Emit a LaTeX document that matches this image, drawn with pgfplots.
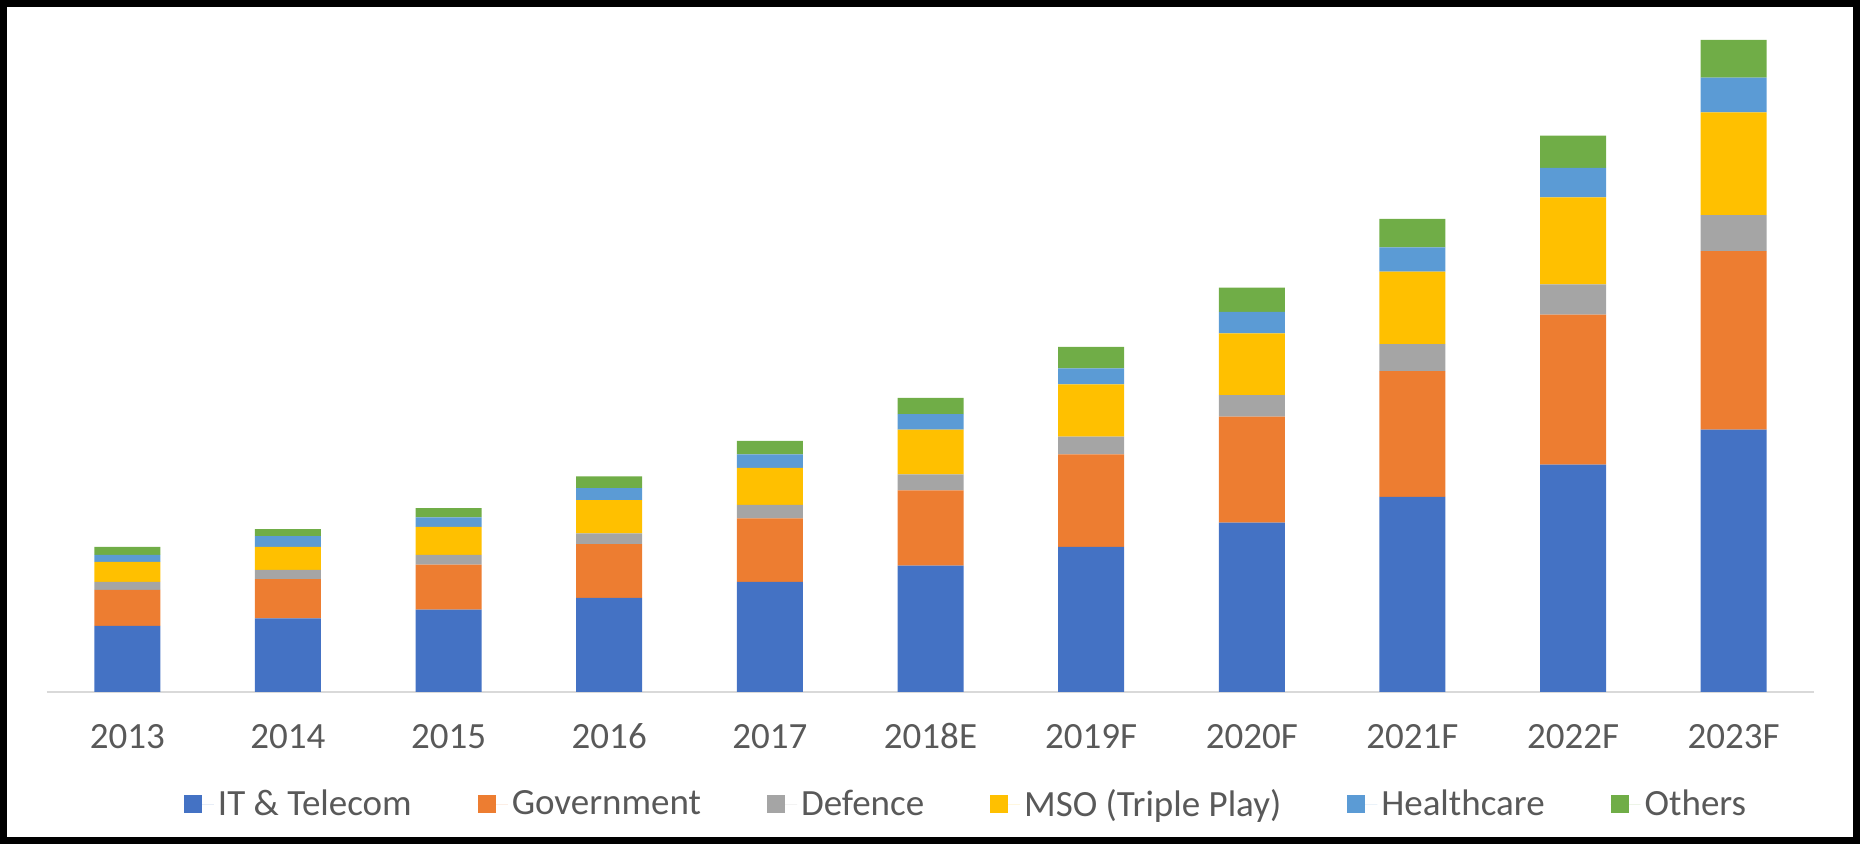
\documentclass[border=0pt]{standalone}
\usepackage{pgfplots}
\pgfplotsset{compat=1.18}
\usepackage{pgfplotstable}
\usepackage{fontspec}
\setmainfont{Carlito}
\definecolor{cIT}{HTML}{4472C4}
\definecolor{cGov}{HTML}{ED7D31}
\definecolor{cDef}{HTML}{A5A5A5}
\definecolor{cMSO}{HTML}{FFC000}
\definecolor{cHea}{HTML}{5B9BD5}
\definecolor{cOth}{HTML}{70AD47}
\definecolor{txt}{HTML}{595959}
\pgfplotstableread{
x IT Gov Def MSO Hea Oth
0 123 67 15 37 13 15
1 137 73 17 43 20 13
2 153 84 18 52 18 17
3 175 100 20 62 22 22
4 205 118 25 69 25 25
5 235 140 30 83 29 30
6 270 172 33 97 30 40
7 315 197 40 115 40 45
8 363 234 50 135 45 53
9 423 279 56 162 55 60
10 488 332 67 191 65 70
}\data
\begin{document}
\begin{tikzpicture}
\begin{axis}[
  at={(0pt,0pt)}, anchor=south west,
  scale only axis, width=883.5pt, height=336pt,
  ybar stacked, bar width=33pt,
  xmin=-0.5, xmax=10.5, ymin=0, ymax=1250,
  axis y line=none, axis x line*=bottom,
  x axis line style={draw=black!15, line width=1pt, -},
  xtick=data, major tick length=0pt,
  xticklabels={2013,2014,2015,2016,2017,2018E,2019F,2020F,2021F,2022F,2023F},
  xticklabel style={anchor=base, yshift=-28.5pt, font=\fontsize{18.5}{21}\selectfont, text=txt},
  legend columns=6,
  legend style={draw=none, at={(0.5207,-0.1667)}, anchor=center,
    font=\fontsize{18.5}{21}\selectfont, text=txt,
    /tikz/every even column/.append style={column sep=31pt}},
  legend image code/.code={\fill[#1] (0pt,-4.5pt) rectangle (9pt,4.5pt); \path (0pt,0pt) -- (15pt,0pt);},
]
\addplot[fill=cIT, draw=none] table[x=x,y=IT]{\data};
\addlegendentry{IT \& Telecom}
\addplot[fill=cGov, draw=none] table[x=x,y=Gov]{\data};
\addlegendentry{Government}
\addplot[fill=cDef, draw=none] table[x=x,y=Def]{\data};
\addlegendentry{Defence}
\addplot[fill=cMSO, draw=none] table[x=x,y=MSO]{\data};
\addlegendentry{MSO (Triple Play)}
\addplot[fill=cHea, draw=none] table[x=x,y=Hea]{\data};
\addlegendentry{Healthcare}
\addplot[fill=cOth, draw=none] table[x=x,y=Oth]{\data};
\addlegendentry{Others}
\end{axis}
\draw[line width=3.5pt, black] (-21.75pt,-74.25pt) rectangle (904.75pt,344.25pt);
\pgfresetboundingbox
\path[use as bounding box] (-23.5pt,-76pt) rectangle (906.5pt,346pt);
\end{tikzpicture}
\end{document}
